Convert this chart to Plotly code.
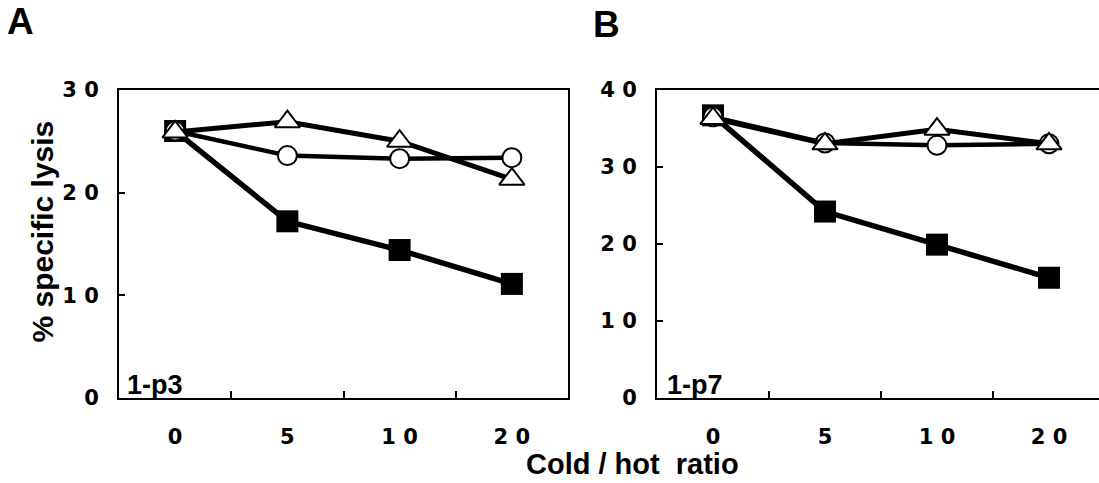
import plotly.graph_objects as go

# ---------------- data ----------------
categories = ["0", "5", "10", "20"]
x_tick_labels = ["0", "5", "1 0", "2 0"]

a_square = [26.0, 17.2, 14.4, 11.1]
a_circle = [26.0, 23.6, 23.3, 23.4]
a_triangle = [25.9, 26.9, 25.0, 21.3]

b_square = [36.7, 24.2, 19.9, 15.6]
b_circle = [36.5, 33.1, 32.8, 33.0]
b_triangle = [36.3, 33.0, 34.9, 33.0]

a_y_ticks = [0, 10, 20, 30]
a_y_labels = ["0", "1 0", "2 0", "3 0"]
b_y_ticks = [0, 10, 20, 30, 40]
b_y_labels = ["0", "1 0", "2 0", "3 0", "4 0"]

panel_a_label = "1-p3"
panel_b_label = "1-p7"
# --------------------------------------

W, H = 1099, 483
FONT = "Liberation Sans, Arial, Helvetica, sans-serif"
TICKFONT = "DejaVu Sans, Liberation Sans, Arial, sans-serif"


def fx(p):
    return p / W


def fy(p):
    return 1 - p / H


fig = go.Figure()

styles = [
    dict(symbol="square", size=22, color="black", line=dict(width=0, color="black"), lw=5.5),
    dict(symbol="circle", size=19, color="white", line=dict(width=2, color="black"), lw=4.5),
    dict(symbol="triangle-up", size=22, color="white", line=dict(width=2, color="black"), lw=5),
]

for series, xa, ya in [((a_square, a_circle, a_triangle), "x", "y"),
                       ((b_square, b_circle, b_triangle), "x2", "y2")]:
    for vals, st in zip(series, styles):
        fig.add_trace(go.Scatter(
            x=categories, y=vals, xaxis=xa, yaxis=ya,
            mode="lines+markers",
            line=dict(color="black", width=st["lw"]),
            marker=dict(symbol=st["symbol"], size=st["size"], color=st["color"], line=st["line"]),
            showlegend=False, hoverinfo="skip", cliponaxis=False,
        ))

tickfont = dict(family=TICKFONT, size=21, color="black", weight="bold")

xcommon = dict(
    type="category", categoryorder="array", categoryarray=categories,
    tickmode="array", tickvals=categories, ticktext=x_tick_labels,
    tickson="boundaries", ticks="inside", ticklen=7, tickwidth=2, tickcolor="black",
    showline=True, linewidth=2, linecolor="black", mirror=True,
    showgrid=False, zeroline=False, tickfont=tickfont, ticklabelstandoff=19,
    fixedrange=True,
)
ycommon = dict(
    tickmode="array", ticks="inside", ticklen=6, tickwidth=2, tickcolor="black",
    showline=True, linewidth=2, linecolor="black",
    showgrid=False, zeroline=False, tickfont=tickfont, ticklabelstandoff=14,
    fixedrange=True,
)

fig.update_layout(
    width=W, height=H,
    margin=dict(l=0, r=0, t=0, b=0),
    paper_bgcolor="white", plot_bgcolor="white",
    showlegend=False,
    xaxis=dict(xcommon, domain=[fx(119), fx(568)], range=[-0.5, 3.5], anchor="y"),
    yaxis=dict(ycommon, domain=[fy(406), fy(82)], range=[0, 30],
               tickvals=a_y_ticks, ticktext=a_y_labels, mirror=True, anchor="x"),
    xaxis2=dict(xcommon, domain=[fx(657), 1.0], range=[-0.5, 3.5 - 6 / 112], anchor="y2"),
    yaxis2=dict(ycommon, domain=[fy(406), fy(82)], range=[0, 40],
                tickvals=b_y_ticks, ticktext=b_y_labels, mirror=False, anchor="x2"),
)

ann = []
# panel letters
ann.append(dict(text="A", x=fx(5), y=fy(-14), xref="paper", yref="paper",
                xanchor="left", yanchor="top", showarrow=False,
                font=dict(family=FONT, size=37, color="black", weight="bold")))
ann.append(dict(text="B", x=fx(591), y=fy(-10), xref="paper", yref="paper",
                xanchor="left", yanchor="top", showarrow=False,
                font=dict(family=FONT, size=37, color="black", weight="bold")))
# in-panel labels
ann.append(dict(text=panel_a_label, x=0, y=0, xref="x domain", yref="y domain",
                xanchor="left", yanchor="bottom", xshift=6, yshift=-4, showarrow=False,
                font=dict(family=FONT, size=27, color="black", weight="bold")))
ann.append(dict(text=panel_b_label, x=0, y=0, xref="x2 domain", yref="y2 domain",
                xanchor="left", yanchor="bottom", xshift=8, yshift=-4, showarrow=False,
                font=dict(family=FONT, size=27, color="black", weight="bold")))
# axis titles
ann.append(dict(text="% specific lysis", x=fx(43), y=fy(231), xref="paper", yref="paper",
                xanchor="center", yanchor="middle", textangle=-90, showarrow=False,
                font=dict(family=FONT, size=30, color="black", weight="bold")))
ann.append(dict(text="Cold / hot \u00a0ratio", x=fx(632), y=fy(476), xref="paper", yref="paper",
                xanchor="center", yanchor="middle", showarrow=False,
                font=dict(family=FONT, size=29, color="black", weight="bold")))
fig.update_layout(annotations=ann)

fig.write_html("out.html")
